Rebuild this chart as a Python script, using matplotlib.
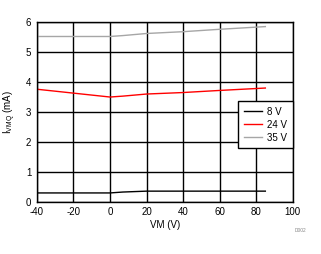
import matplotlib.pyplot as plt

plt.rcParams['font.family'] = ['Liberation Sans', 'DejaVu Sans']
plt.rcParams['axes.unicode_minus'] = False

vm = [-40, -20, 0, 7, 20, 40, 60, 85]
iq_8v = [0.30, 0.30, 0.30, 0.33, 0.36, 0.36, 0.36, 0.36]
iq_24v = [3.76, 3.63, 3.50, 3.53, 3.60, 3.65, 3.72, 3.80]
iq_35v = [5.52, 5.52, 5.52, 5.55, 5.62, 5.68, 5.76, 5.85]

fig = plt.figure(figsize=(3.21, 2.54), dpi=100)
ax = fig.add_axes([0.115, 0.205, 0.797, 0.708])

ax.plot(vm, iq_8v, color='black', lw=1, label='8 V')
ax.plot(vm, iq_24v, color='#ff0000', lw=1, label='24 V')
ax.plot(vm, iq_35v, color='#a6a6a6', lw=1, label='35 V')

ax.set_xlim(-40, 100)
ax.set_ylim(0, 6)
ax.set_xticks(range(-40, 101, 20))
ax.set_yticks(range(0, 7))
ax.grid(True, color='black', lw=1)
for s in ax.spines.values():
    s.set_linewidth(1)
ax.tick_params(length=0, labelsize=7, pad=4)
ax.set_xlabel('VM (V)', fontsize=7, labelpad=2)
ax.set_ylabel('I$_{\\mathregular{VMQ}}$ (mA)', fontsize=7, labelpad=6)

leg = ax.legend(loc='center right', bbox_to_anchor=(1.0, 0.43), fontsize=7,
                frameon=True, fancybox=False, framealpha=1, edgecolor='black',
                handlelength=1.9, borderpad=0.6, labelspacing=0.3,
                borderaxespad=0, handletextpad=0.5)
leg.get_frame().set_linewidth(1)

fig.text(0.955, 0.085, 'D002', fontsize=3.5, color='#888888', ha='right')

fig.savefig('out.png', dpi=100)
